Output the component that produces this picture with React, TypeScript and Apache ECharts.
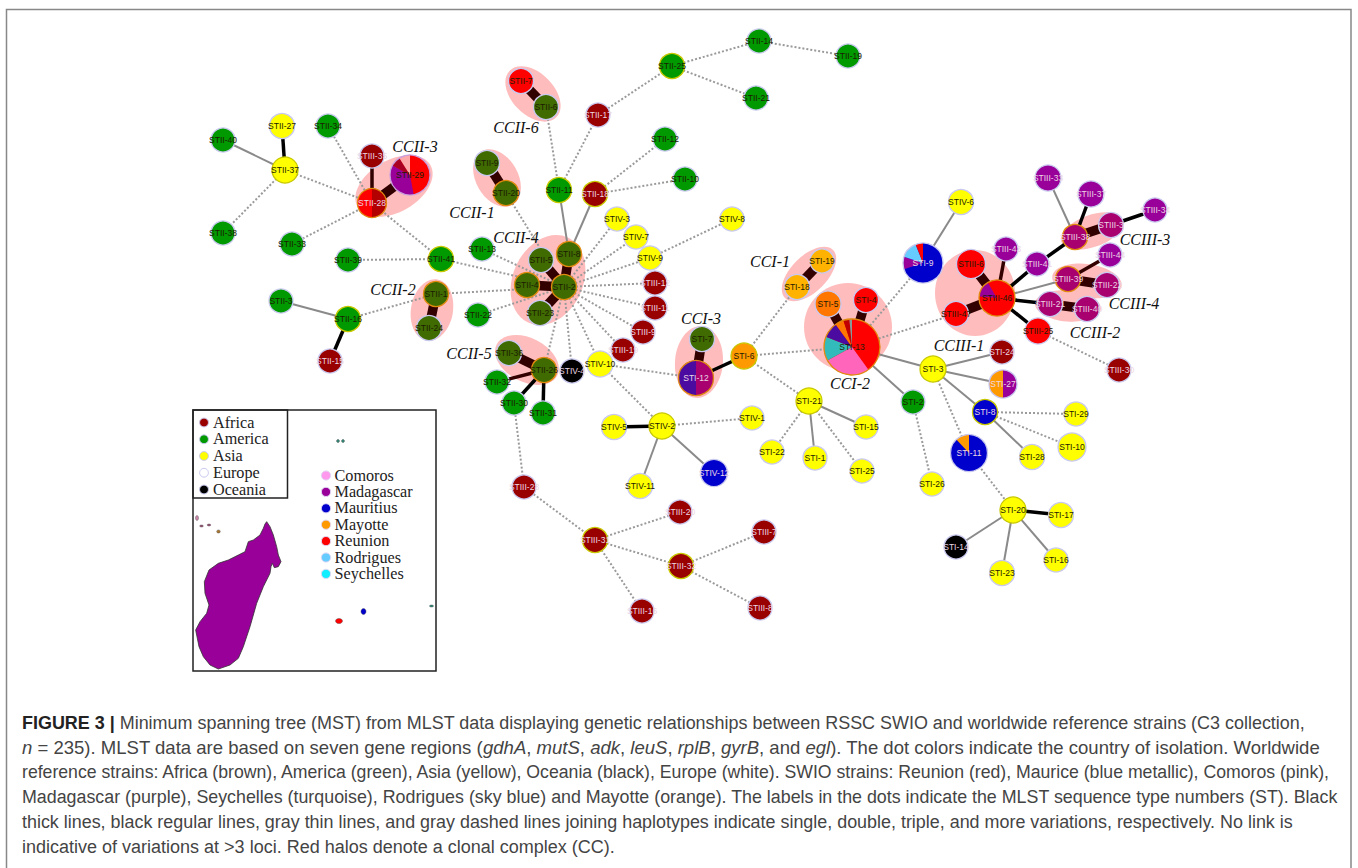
import React, { useEffect, useRef } from "react";
import * as echarts from "echarts";

const GREEN = "#009900", DRED = "#990000", YEL = "#ffff00", OLV = "#3f6b00", PUR = "#990099", MAG = "#a8006f";
const BLUE = "#0000cc", RED = "#ff0000", BLK = "#000000", ORG = "#ff9900", IND = "#4b0aa0", PINK = "#ff66bb";
const TEAL = "#33bbbb", SKY = "#66ccff", AMB = "#ffb300", DOR = "#ff7700", GRY = "#889999";
const LAV = "#c9c9ef", RY = "#c8c800", RO = "#e08a10";

// name, x, y, radius, fill, ring
const americaNodes: any[] = [
  ["STII-34", 328, 126, 12, GREEN, LAV], ["STII-40", 223, 140, 12, GREEN, LAV], ["STII-38", 223, 233, 12, GREEN, LAV],
  ["STII-33", 292, 244, 12, GREEN, LAV], ["STII-11", 559, 190, 12.5, GREEN, RY], ["STII-13", 482, 249, 12, GREEN, LAV],
  ["STII-41", 441, 259, 12.5, GREEN, RY], ["STII-39", 348, 260, 12, GREEN, LAV], ["STII-3", 281, 301, 12, GREEN, LAV],
  ["STII-16", 348, 319, 12.5, GREEN, RY], ["STII-22", 478, 315, 12, GREEN, LAV], ["STII-32", 497, 382, 12, GREEN, LAV],
  ["STII-30", 514, 403, 12, GREEN, LAV], ["STII-31", 543, 413, 12, GREEN, LAV], ["STII-14", 759, 41, 12, GREEN, LAV],
  ["STII-19", 848, 56, 12, GREEN, LAV], ["STII-25", 672, 66, 12.5, GREEN, RY], ["STII-21", 756, 98, 12, GREEN, LAV],
  ["STII-12", 665, 139, 12, GREEN, LAV], ["STII-10", 685, 179, 12, GREEN, LAV], ["STI-2", 913, 402, 12, GREEN, LAV],
];
const oliveNodes: any[] = [
  ["STII-6", 546, 107, 12.5, OLV, LAV], ["STII-9", 487, 163, 12.5, OLV, LAV], ["STII-20", 506, 193, 12.5, OLV, RO],
  ["STII-8", 569, 254, 12.5, OLV, RO], ["STII-5", 541, 260, 12.5, OLV, LAV], ["STII-4", 527, 285, 12.5, OLV, RO],
  ["STII-2", 564, 287, 12.5, OLV, RO], ["STII-1", 436, 294, 12.5, OLV, RO], ["STII-24", 429, 328, 12.5, OLV, LAV],
  ["STII-23", 540, 313, 12.5, OLV, LAV], ["STII-36", 509, 353, 12.5, OLV, LAV], ["STII-26", 544, 370, 12.5, OLV, RO],
  ["STI-7", 702, 339, 12.5, OLV, LAV],
];
const africaNodes: any[] = [
  ["STIII-35", 372, 156, 12, DRED, LAV], ["STII-15", 330, 361, 12, DRED, LAV], ["STIII-19", 623, 350, 12, DRED, LAV],
  ["STIII-9", 643, 332, 12, DRED, LAV], ["STIII-11", 655, 308, 12, DRED, LAV], ["STIII-12", 655, 283, 12, DRED, LAV],
  ["STII-17", 598, 115, 12, DRED, LAV], ["STII-18", 595, 194, 12.5, DRED, RY], ["STIII-30", 1119, 370, 12, DRED, LAV],
  ["STI-24", 1002, 352, 12, DRED, LAV], ["STIII-28", 524, 487, 12, DRED, LAV], ["STIII-31", 595, 540, 12.5, DRED, RY],
  ["STIII-20", 680, 512, 12, DRED, LAV], ["STIII-32", 681, 566, 12.5, DRED, RY], ["STIII-7", 764, 532, 12, DRED, LAV],
  ["STIII-8", 760, 608, 12, DRED, LAV], ["STIII-16", 642, 611, 12, DRED, LAV],
];
const asiaNodes: any[] = [
  ["STII-27", 282, 126, 12.5, YEL, LAV], ["STII-37", 285, 170, 13, YEL, RY], ["STIV-10", 600, 364, 13, YEL, LAV],
  ["STIV-3", 617, 219, 12, YEL, LAV], ["STIV-7", 636, 237, 12, YEL, LAV], ["STIV-9", 650, 258, 12, YEL, LAV],
  ["STIV-8", 732, 219, 12, YEL, LAV], ["STI-21", 809, 401, 13, YEL, RY], ["STI-15", 866, 427, 12, YEL, LAV],
  ["STI-22", 772, 452, 12, YEL, LAV], ["STI-1", 815, 458, 12, YEL, LAV], ["STI-25", 862, 471, 12, YEL, LAV],
  ["STIV-1", 752, 418, 12, YEL, LAV], ["STIV-2", 662, 426, 13, YEL, RY], ["STIV-5", 614, 427, 12.5, YEL, LAV],
  ["STIV-11", 640, 486, 12.5, YEL, LAV], ["STIV-6", 961, 202, 12.5, YEL, LAV], ["STI-3", 933, 369, 13, YEL, RY],
  ["STI-29", 1076, 414, 12, YEL, LAV], ["STI-10", 1072, 447, 14, YEL, LAV], ["STI-28", 1032, 457, 12.5, YEL, LAV],
  ["STI-26", 932, 484, 12, YEL, LAV], ["STI-20", 1013, 510, 13, YEL, RY], ["STI-17", 1061, 515, 12.5, YEL, LAV],
  ["STI-16", 1056, 560, 12, YEL, LAV], ["STI-23", 1002, 573, 12.5, YEL, LAV],
];
const swioNodes: any[] = [
  ["STII-29", 410, 175, 20, RED, "#c8a0e0"], ["STII-28", 372, 203, 14.5, RED, RO], ["STII-7", 521, 81, 12.5, RED, LAV],
  ["STIV-4", 572, 371, 12, BLK, LAV], ["STIV-12", 714, 473, 13.5, BLUE, LAV], ["STI-14", 956, 547, 12, BLK, LAV],
  ["STI-19", 822, 261, 12, AMB, LAV], ["STI-18", 797, 287, 12.5, AMB, LAV], ["STI-5", 828, 304, 13, DOR, LAV],
  ["STI-4", 866, 300, 12.5, RED, LAV], ["STI-13", 852, 347, 28, RED, RO], ["STI-12", 696, 378, 17.5, MAG, RO],
  ["STI-6", 744, 356, 13, ORG, RY], ["STI-9", 923, 263, 20, BLUE, LAV], ["STI-27", 1003, 384, 14, PUR, LAV],
  ["STI-8", 985, 412, 12.5, BLUE, RY], ["STI-11", 969, 453, 18.5, BLUE, LAV], ["STIII-33", 1048, 178, 13, PUR, LAV],
  ["STIII-37", 1091, 194, 13, PUR, LAV], ["STIII-34", 1155, 210, 12, PUR, LAV], ["STIII-3", 1111, 225, 12.5, MAG, LAV],
  ["STIII-38", 1075, 237, 12.5, MAG, RO], ["STIII-41", 1037, 264, 12, PUR, LAV], ["STIII-43", 1006, 249, 12, PUR, LAV],
  ["STIII-44", 1110, 255, 12, PUR, LAV], ["STIII-39", 1068, 279, 12.5, MAG, RO], ["STIII-22", 1107, 285, 12.5, MAG, LAV],
  ["STIII-21", 1050, 304, 12.5, MAG, LAV], ["STIII-40", 1087, 309, 12.5, MAG, LAV], ["STIII-6", 971, 264, 14.5, RED, LAV],
  ["STIII-46", 997, 298, 18, RED, RO], ["STIII-47", 956, 314, 12.5, RED, LAV], ["STIII-25", 1038, 331, 13, RED, LAV],
];
const nodes = [...africaNodes, ...americaNodes, ...oliveNodes, ...asiaNodes, ...swioNodes];

// pie nodes: clockwise from the top, [share, colour]
const pieShares: Record<string, [number, string][]> = {
  "STII-29": [[47, RED], [36, PUR], [8, "#aa0022"], [9, "#ffaaaa"]],
  "STII-28": [[50, "#b30000"], [50, RED]],
  "STI-13": [[40, RED], [27, PINK], [14, TEAL], [9, IND], [5, DOR], [3.5, "#c00000"], [1.5, GRY]],
  "STI-12": [[50, MAG], [50, IND]],
  "STI-9": [[70, BLUE], [10, PUR], [14, SKY], [6, RED]],
  "STI-27": [[50, PUR], [50, ORG]],
  "STI-11": [[88, BLUE], [12, ORG]],
  "STIII-46": [[76.4, RED], [15.3, PUR], [8.3, RED]],
};
const lightLabels = ["STII-28", "STI-9", "STI-11", "STI-27", "STI-12"];
const darkFills = [DRED, BLUE, PUR, MAG, BLK];

const thickLinks = [
  ["STII-7", "STII-6"], ["STII-9", "STII-20"], ["STII-28", "STII-29"], ["STII-1", "STII-24"], ["STII-2", "STII-8"],
  ["STII-2", "STII-5"], ["STII-2", "STII-4"], ["STII-2", "STII-23"], ["STII-36", "STII-26"], ["STI-19", "STI-18"],
  ["STI-5", "STI-13"], ["STI-4", "STI-13"], ["STI-7", "STI-12"], ["STIII-6", "STIII-46"], ["STIII-47", "STIII-46"],
  ["STIII-39", "STIII-22"], ["STIII-21", "STIII-40"], ["STIII-38", "STIII-3"],
];
const brownLinks = [
  ["STII-26", "STII-32"], ["STII-28", "STIII-35"], ["STIII-46", "STIII-43"], ["STIII-39", "STIII-44"],
];
const regularLinks = [
  ["STII-27", "STII-37"], ["STII-15", "STII-16"], ["STII-26", "STII-30"], ["STII-26", "STII-31"], ["STIV-5", "STIV-2"],
  ["STI-12", "STI-6"], ["STI-20", "STI-17"], ["STIII-46", "STIII-41"], ["STIII-41", "STIII-38"], ["STIII-46", "STIII-21"],
  ["STIII-46", "STIII-25"], ["STIII-38", "STIII-37"], ["STIII-3", "STIII-34"],
];
const thinLinks = [
  ["STII-40", "STII-37"], ["STII-3", "STII-16"], ["STII-11", "STII-8"], ["STII-18", "STII-8"], ["STIV-2", "STIV-11"],
  ["STIV-2", "STIV-12"], ["STI-21", "STI-15"], ["STI-21", "STI-1"], ["STI-13", "STI-3"], ["STI-13", "STI-2"],
  ["STI-3", "STI-24"], ["STI-3", "STI-27"], ["STI-3", "STI-8"], ["STI-8", "STI-28"], ["STI-20", "STI-14"],
  ["STI-20", "STI-23"], ["STI-20", "STI-16"], ["STIV-6", "STI-9"], ["STIII-33", "STIII-38"], ["STIII-46", "STIII-39"],
];
const dashedLinks = [
  ["STII-37", "STII-38"], ["STII-37", "STII-28"], ["STII-34", "STII-28"], ["STII-33", "STII-28"], ["STII-28", "STII-41"],
  ["STII-41", "STII-39"], ["STII-41", "STII-2"], ["STII-13", "STII-2"], ["STII-1", "STII-2"], ["STII-1", "STII-16"],
  ["STII-22", "STII-2"], ["STII-20", "STII-2"], ["STII-6", "STII-11"], ["STII-11", "STII-17"], ["STII-17", "STII-25"],
  ["STII-25", "STII-14"], ["STII-14", "STII-19"], ["STII-25", "STII-21"], ["STII-18", "STII-12"], ["STII-18", "STII-10"],
  ["STII-2", "STIV-3"], ["STII-2", "STIV-7"], ["STII-2", "STIV-9"], ["STIV-9", "STIV-8"], ["STII-2", "STIII-12"],
  ["STII-2", "STIII-11"], ["STII-2", "STIII-9"], ["STII-2", "STIII-19"], ["STII-2", "STIV-10"], ["STII-2", "STIV-4"],
  ["STII-2", "STII-26"], ["STII-30", "STIII-28"], ["STIII-28", "STIII-31"], ["STIII-31", "STIII-20"], ["STIII-31", "STIII-32"],
  ["STIII-31", "STIII-16"], ["STIII-32", "STIII-7"], ["STIII-32", "STIII-8"], ["STIV-10", "STIV-2"], ["STIV-10", "STI-12"],
  ["STIV-2", "STIV-1"], ["STI-6", "STI-18"], ["STI-6", "STI-13"], ["STI-6", "STI-21"], ["STI-21", "STI-22"],
  ["STI-21", "STI-25"], ["STI-13", "STI-9"], ["STI-13", "STIII-47"], ["STI-3", "STI-11"], ["STI-2", "STI-26"],
  ["STI-8", "STI-29"], ["STI-8", "STI-10"], ["STI-11", "STI-20"], ["STIII-25", "STIII-30"],
];

// x, y, semi-axis a, semi-axis b, tilt in degrees (clockwise on screen)
const halos: number[][] = [
  [394, 186, 42, 26, -30], [533, 94, 33, 21, 45], [497, 178, 31, 21, 60], [548, 280, 47, 35, -65], [432, 310, 31, 21, -80],
  [527, 360, 34, 22, 27], [809, 274, 34, 18, -45], [848, 327, 44, 44, 0], [699, 362, 36, 24, -85], [975, 293, 43, 40, 90],
  [1092, 231, 32.5, 16, -20], [1087, 281, 35, 17, 8], [1068, 306, 33, 15.5, 5],
];
const complexLabels: [string, number, number][] = [
  ["CCII-3", 415, 146], ["CCII-6", 516, 127], ["CCII-1", 472, 212], ["CCII-4", 516, 237], ["CCII-2", 393, 289],
  ["CCII-5", 469, 353], ["CCI-1", 770, 261], ["CCI-3", 701, 318], ["CCI-2", 850, 383], ["CCIII-1", 959, 345],
  ["CCIII-3", 1145, 239], ["CCIII-4", 1134, 303], ["CCIII-2", 1095, 332],
];

const continents: [string, string][] = [["Africa", DRED], ["America", GREEN], ["Asia", YEL], ["Europe", "#ffffff"], ["Oceania", BLK]];
const countries: [string, string][] = [
  ["Comoros", "#ff99ee"], ["Madagascar", PUR], ["Mauritius", BLUE], ["Mayotte", ORG], ["Reunion", RED], ["Rodrigues", SKY], ["Seychelles", "#11eeff"],
];
const madagascarOutline = [
  [245, 365], [255, 380], [265, 405], [275, 440], [280, 465], [288, 485], [280, 500], [268, 503], [262, 490], [258, 500],
  [255, 520], [235, 560], [215, 610], [195, 680], [175, 740], [160, 775], [135, 795], [100, 807], [75, 795], [55, 770],
  [42, 740], [32, 690], [45, 665], [65, 640], [72, 615], [60, 580], [58, 545], [72, 510], [100, 490], [130, 480],
  [160, 465], [180, 455], [190, 425], [205, 420], [225, 405], [235, 385], [240, 372],
];
const islands: [number, number, number, number, string][] = [
  [339, 621, 3.5, 2.6, RED], [363.5, 611.5, 2.5, 3, BLUE], [431.5, 606, 2, 1, "#338877"], [338, 441, 1.5, 1.5, "#338877"],
  [343, 441, 1.5, 1.5, "#338877"], [197, 518, 1.5, 2.5, "#cc88aa"], [201.5, 526, 1.8, 1, "#995577"], [209, 525, 1.8, 1, "#995577"], [218.5, 531.5, 1.8, 1.6, "#aa7733"],
];

const captionLines = [
  "{b|FIGURE 3 |} Minimum spanning tree (MST) from MLST data displaying genetic relationships between RSSC SWIO and worldwide reference strains (C3 collection,",
  "{i|n} = 235). MLST data are based on seven gene regions ({i|gdhA}, {i|mutS}, {i|adk}, {i|leuS}, {i|rplB}, {i|gyrB}, and {i|egl}). The dot colors indicate the country of isolation. Worldwide",
  "reference strains: Africa (brown), America (green), Asia (yellow), Oceania (black), Europe (white). SWIO strains: Reunion (red), Maurice (blue metallic), Comoros (pink),",
  "Madagascar (purple), Seychelles (turquoise), Rodrigues (sky blue) and Mayotte (orange). The labels in the dots indicate the MLST sequence type numbers (ST). Black",
  "thick lines, black regular lines, gray thin lines, and gray dashed lines joining haplotypes indicate single, double, triple, and more variations, respectively. No link is",
  "indicative of variations at >3 loci. Red halos denote a clonal complex (CC).",
];
const captionSizes = [17.96, 18.55, 17.67, 17.84, 17.92, 18];

const pos: Record<string, [number, number]> = {};
nodes.forEach((n) => { pos[n[0]] = [n[1], n[2]]; });
const linkData = (pairs: string[][]) => pairs.map(([a, b]) => ({ coords: [pos[a], pos[b]] }));
const linkSeries = (pairs: string[][], color: string, width: number, type: any = "solid") => ({
  type: "lines", coordinateSystem: "cartesian2d", polyline: false, silent: true, z: 3,
  lineStyle: { color, width, type, opacity: 1, curveness: 0 }, data: linkData(pairs),
});

export default function App() {
  const ref = useRef<HTMLDivElement>(null);
  useEffect(() => {
    const chart = echarts.init(ref.current!, null, { renderer: "svg" });
    const serif = '"Liberation Serif", serif';
    const sans = '"Liberation Sans", sans-serif';
    const graphic: any[] = [
      { type: "rect", shape: { x: 6.5, y: 9.5, width: 1344.5, height: 880 }, style: { fill: "none", stroke: "#888888", lineWidth: 1.5 } },
      { type: "rect", shape: { x: 193, y: 410, width: 243, height: 261 }, style: { fill: "#ffffff", stroke: "#222222", lineWidth: 1.5 } },
      { type: "rect", shape: { x: 193, y: 410, width: 94.5, height: 88 }, style: { fill: "none", stroke: "#222222", lineWidth: 1.5 } },
      { type: "polygon", shape: { points: madagascarOutline.map(([x, y]) => [185 + x / 3, 400 + y / 3]) }, style: { fill: PUR, stroke: "#333333", lineWidth: 0.8 } },
    ];
    islands.forEach(([x, y, a, b, fill]) => graphic.push({ type: "ellipse", shape: { cx: x, cy: y, rx: a, ry: b }, style: { fill, stroke: "#444444", lineWidth: 0.4 } }));
    continents.forEach(([name, color], i) => {
      const y = 422.5 + i * 16.75;
      graphic.push({ type: "circle", shape: { cx: 204, cy: y, r: 4.4 }, style: { fill: color, stroke: LAV, lineWidth: 1 } });
      graphic.push({ type: "text", x: 213, y, style: { text: name, fill: "#222222", font: `16.2px ${serif}`, align: "left", verticalAlign: "middle" } });
    });
    countries.forEach(([name, color], i) => {
      const y = 475.5 + i * 16.4;
      graphic.push({ type: "circle", shape: { cx: 326, cy: y, r: 4.6 }, style: { fill: color, stroke: "#e0d8f4", lineWidth: 1 } });
      graphic.push({ type: "text", x: 334.5, y, style: { text: name, fill: "#222222", font: `16.2px ${serif}`, align: "left", verticalAlign: "middle" } });
    });
    captionLines.forEach((text, i) => {
      const size = captionSizes[i];
      graphic.push({
        type: "text", x: 22, y: 723 + i * 24.7,
        style: {
          text, fill: "#444444", font: `${size}px ${sans}`, align: "left", verticalAlign: "middle",
          rich: {
            b: { font: `bold ${size}px ${sans}`, fill: "#222222" },
            i: { font: `italic ${size}px ${sans}`, fill: "#444444" },
          },
        },
      });
    });

    chart.setOption({
      animation: false,
      grid: { left: 0, right: 0, top: 0, bottom: 0 },
      xAxis: { type: "value", min: 0, max: 1358, show: false },
      yAxis: { type: "value", min: 0, max: 868, inverse: true, show: false },
      graphic,
      series: [
        {
          type: "custom", coordinateSystem: "cartesian2d", silent: true, z: 2, data: halos,
          encode: { x: 0, y: 1 },
          renderItem: (_p: any, api: any) => {
            const [x, y] = api.coord([api.value(0), api.value(1)]);
            return {
              type: "ellipse", x, y, rotation: (-api.value(4) * Math.PI) / 180,
              shape: { cx: 0, cy: 0, rx: api.value(2), ry: api.value(3) },
              style: { fill: "#ffbcbc" },
            };
          },
        },
        linkSeries(dashedLinks, "#9a9a9a", 2, [2, 2]),
        linkSeries(thinLinks, "#8a8a8a", 2),
        linkSeries(regularLinks, "#000000", 3.5),
        linkSeries(brownLinks, "#330000", 3.5),
        linkSeries(thickLinks, "#330000", 9.5),
        {
          type: "custom", coordinateSystem: "cartesian2d", silent: true, z: 5,
          data: nodes.map((n, i) => [n[1], n[2], n[3], i]),
          encode: { x: 0, y: 1 },
          renderItem: (_p: any, api: any) => {
            const [cx, cy] = api.coord([api.value(0), api.value(1)]);
            const n = nodes[api.value(3)];
            const r = n[3];
            const name = n[0];
            const children: any[] = [{ type: "circle", shape: { cx, cy, r }, style: { fill: n[4] } }];
            const shares = pieShares[name];
            if (shares) {
              const total = shares.reduce((s, v) => s + v[0], 0);
              let a = -Math.PI / 2;
              shares.forEach(([v, fill]) => {
                const b = a + (v / total) * Math.PI * 2;
                children.push({ type: "sector", shape: { cx, cy, r, r0: 0, startAngle: a, endAngle: b, clockwise: true }, style: { fill } });
                a = b;
              });
            }
            children.push({ type: "circle", shape: { cx, cy, r }, style: { fill: "none", stroke: n[5], lineWidth: 1.3 } });
            const light = lightLabels.includes(name) || darkFills.includes(n[4]) && !shares;
            children.push({
              type: "text", x: cx, y: cy,
              style: { text: name, fill: light ? "#ecd8e4" : "#1c1c00", font: `8.5px ${sans}`, align: "center", verticalAlign: "middle" },
            });
            return { type: "group", children };
          },
        },
        {
          type: "custom", coordinateSystem: "cartesian2d", silent: true, z: 6,
          data: complexLabels.map((l, i) => [l[1], l[2], i]),
          encode: { x: 0, y: 1 },
          renderItem: (_p: any, api: any) => {
            const [x, y] = api.coord([api.value(0), api.value(1)]);
            return {
              type: "text", x, y,
              style: { text: complexLabels[api.value(2)][0], fill: "#111111", font: `italic 16px ${serif}`, align: "center", verticalAlign: "middle" },
            };
          },
        },
      ],
    });
    return () => chart.dispose();
  }, []);
  return <div ref={ref} style={{ position: "fixed", left: 0, top: 0, width: 1358, height: 868, background: "#ffffff" }} />;
}
